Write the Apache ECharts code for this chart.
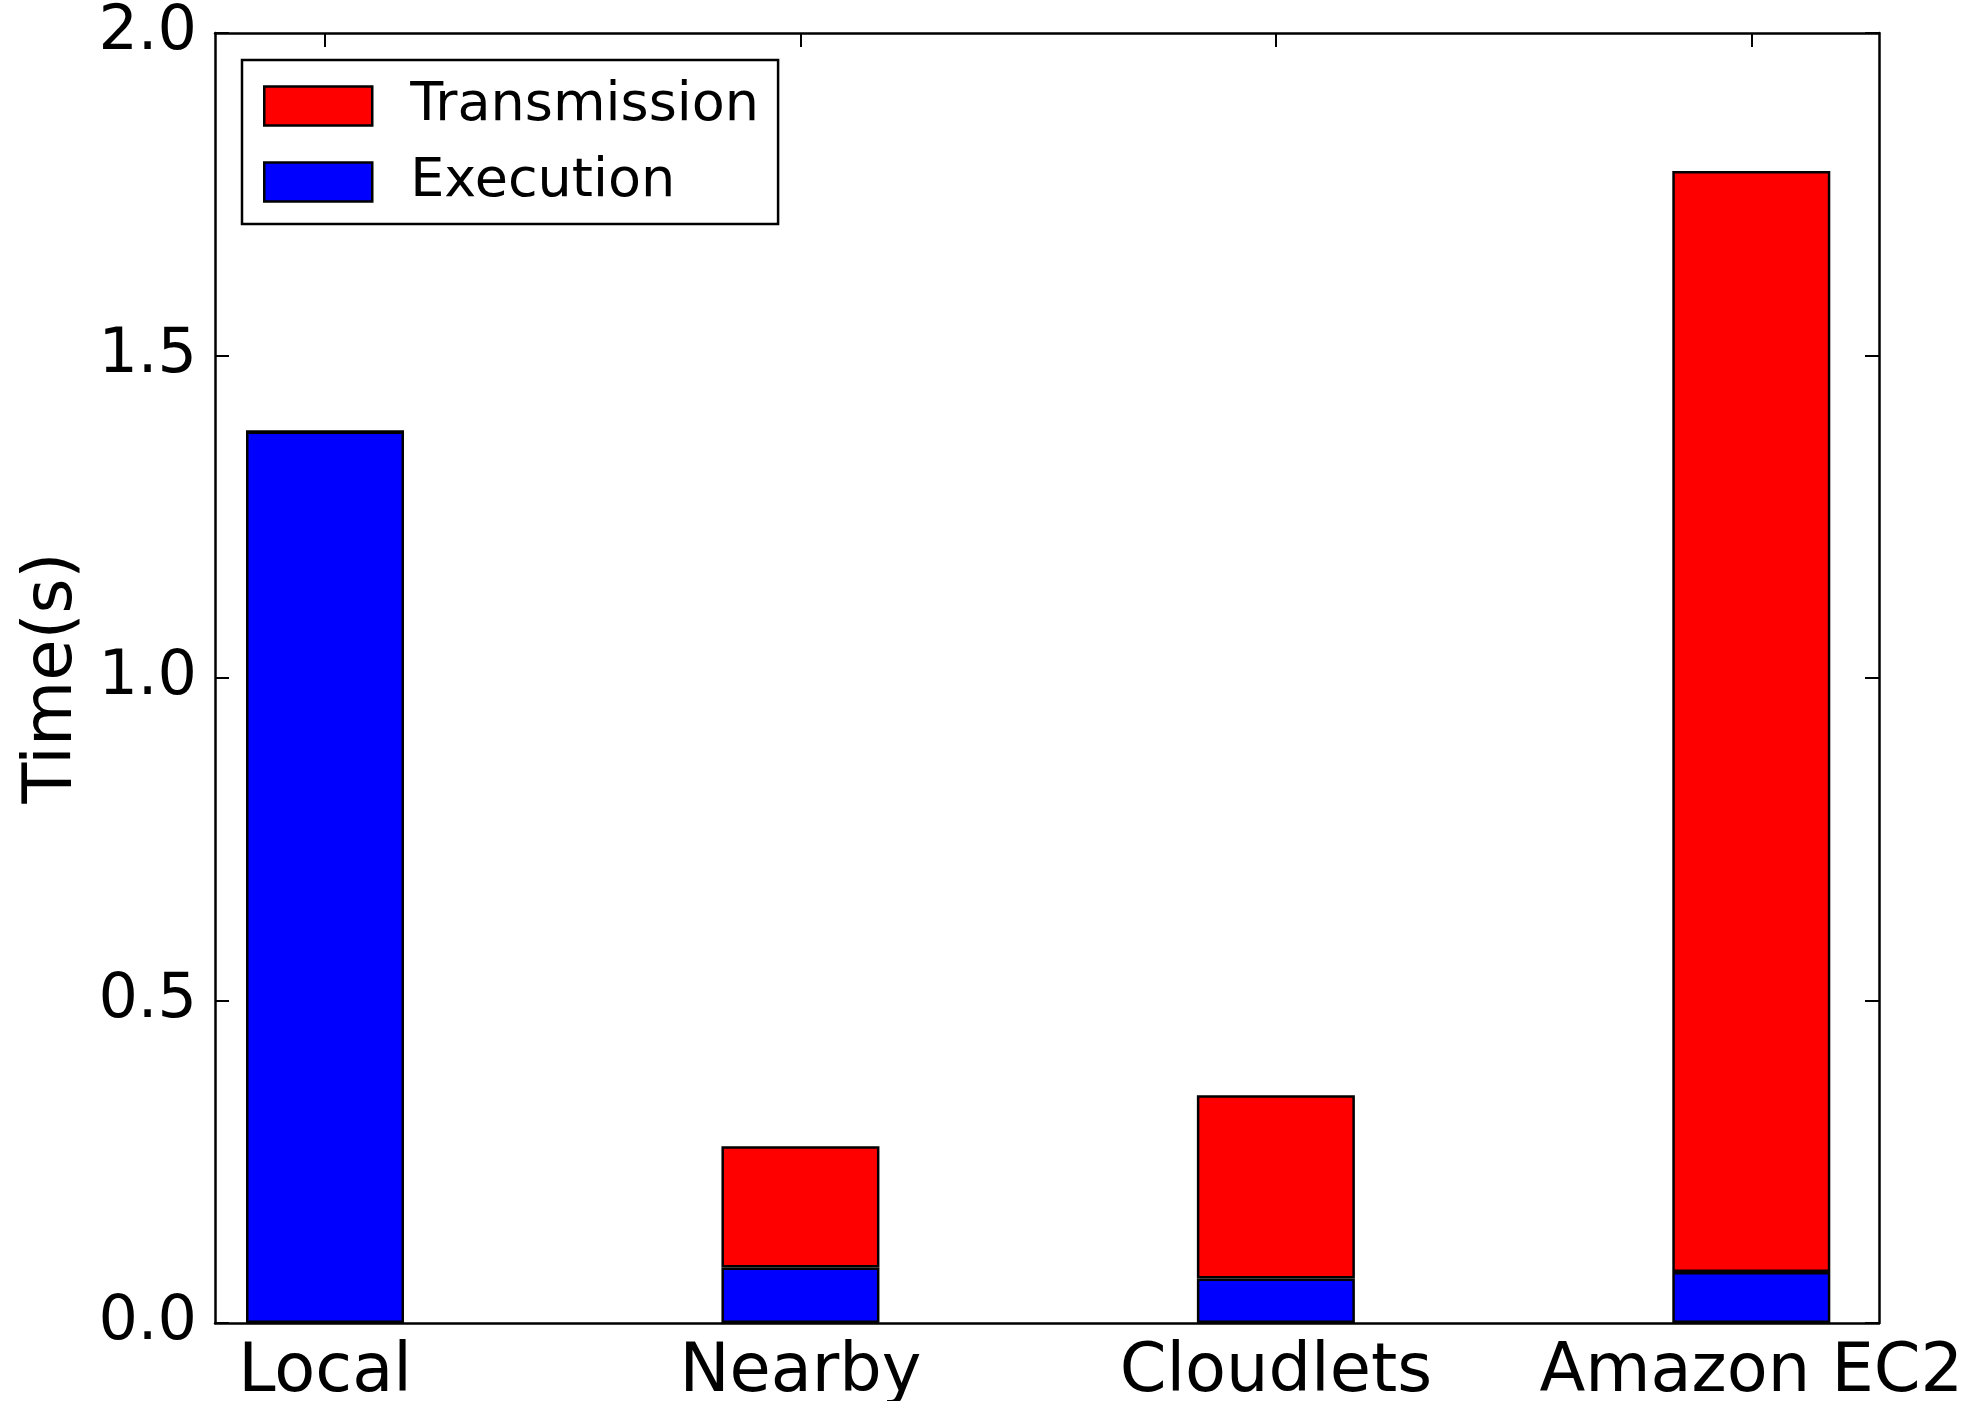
<!DOCTYPE html>
<html>
<head>
<meta charset="utf-8">
<script src="https://cdn.jsdelivr.net/npm/echarts@6/dist/echarts.min.js"></script>
<style>
html,body{margin:0;padding:0;background:#fff;}
#chart{width:1976px;height:1401px;}
</style>
</head>
<body>
<div id="chart"></div>
<script>
// ---- data ----
const categories = ['Local', 'Nearby', 'Cloudlets', 'Amazon EC2'];
const positions = [0, 1, 2, 3];
const execution = [1.382, 0.086, 0.069, 0.079];
const transmission = [0.0, 0.188, 0.284, 1.707];
const yTicks = [0.0, 0.5, 1.0, 1.5, 2.0];

const FONT = 'DejaVu Sans';
const chart = echarts.init(document.getElementById('chart'), null, {renderer: 'canvas'});

// frame (visible axes) spans x = -0.2314 .. 3.2686 ; bars live on a point-category axis
const frameLeft = 215, frameWidth = 1664, frameTop = 33, frameHeight = 1290;
const xMin = -0.2314, xMax = 3.2686;
const unit = frameWidth / (xMax - xMin);
const barGridLeft = frameLeft + (positions[0] - xMin) * unit;
const barGridWidth = unit * (positions[positions.length - 1] - positions[0]);

const axisLineStyle = {color: '#000', width: 2.5};
const tickStyle = {color: '#000', width: 2};

const xFrame = pos => ({
  type: 'value', gridIndex: 0, min: xMin, max: xMax, position: pos,
  splitLine: {show: false},
  axisLine: {show: true, onZero: false, lineStyle: axisLineStyle},
  axisTick: {show: true, inside: true, length: 14, customValues: positions, lineStyle: tickStyle},
  axisLabel: {show: false}
});
const yFrame = pos => ({
  type: 'value', gridIndex: 0, min: 0, max: 2, interval: 0.5, position: pos,
  splitLine: {show: false},
  axisLine: {show: true, onZero: false, lineStyle: axisLineStyle},
  axisTick: {show: true, inside: true, length: 14, lineStyle: tickStyle},
  axisLabel: {show: false}
});

const xBottom = xFrame('bottom');
xBottom.axisLabel = {
  show: true, customValues: positions, margin: 17,
  fontFamily: FONT, fontSize: 67, color: '#000',
  formatter: v => categories[Math.round(v)]
};
const yLeft = yFrame('left');
yLeft.axisLabel = {show: true, margin: 18, fontFamily: FONT, fontSize: 62, color: '#000',
  formatter: v => v.toFixed(1)};
yLeft.name = 'Time(s)';
yLeft.nameLocation = 'middle';
yLeft.nameGap = 123;
yLeft.nameTextStyle = {fontFamily: FONT, fontSize: 67, color: '#000'};

chart.setOption({
  animation: false,
  backgroundColor: '#fff',
  textStyle: {fontFamily: FONT},
  grid: [
    {left: frameLeft, top: frameTop, width: frameWidth, height: frameHeight, containLabel: false, outerBoundsMode: 'none'},
    {left: barGridLeft, top: frameTop, width: barGridWidth, height: frameHeight, containLabel: false, outerBoundsMode: 'none'}
  ],
  legend: {
    show: true,
    data: ['Transmission', 'Execution'],
    orient: 'vertical',
    left: 242, top: 60,
    padding: [19, 19, 15, 21],
    itemGap: 22,
    itemWidth: 108, itemHeight: 39,
    icon: 'rect',
    borderColor: '#000', borderWidth: 2.5, borderRadius: 0,
    backgroundColor: '#fff',
    textStyle: {fontFamily: FONT, fontSize: 54, color: '#000', padding: [4, 0, 0, 33]},
    itemStyle: {borderColor: '#000', borderWidth: 2.5}
  },
  xAxis: [
    xBottom,
    xFrame('top'),
    {
      type: 'category', gridIndex: 1, data: categories, boundaryGap: false,
      axisLine: {show: false}, axisTick: {show: false}, axisLabel: {show: false},
      splitLine: {show: false}
    }
  ],
  yAxis: [
    yLeft,
    yFrame('right'),
    {
      type: 'value', gridIndex: 1, min: 0, max: 2,
      axisLine: {show: false}, axisTick: {show: false}, axisLabel: {show: false},
      splitLine: {show: false}
    }
  ],
  series: [
    {
      name: 'Execution', type: 'bar', stack: 'total', xAxisIndex: 2, yAxisIndex: 2,
      barWidth: 158,
      itemStyle: {color: '#0000ff', borderColor: '#000', borderWidth: 2.5},
      data: execution
    },
    {
      name: 'Transmission', type: 'bar', stack: 'total', xAxisIndex: 2, yAxisIndex: 2,
      barWidth: 158,
      itemStyle: {color: '#ff0000', borderColor: '#000', borderWidth: 2.5},
      data: transmission
    }
  ]
});
</script>
</body>
</html>
